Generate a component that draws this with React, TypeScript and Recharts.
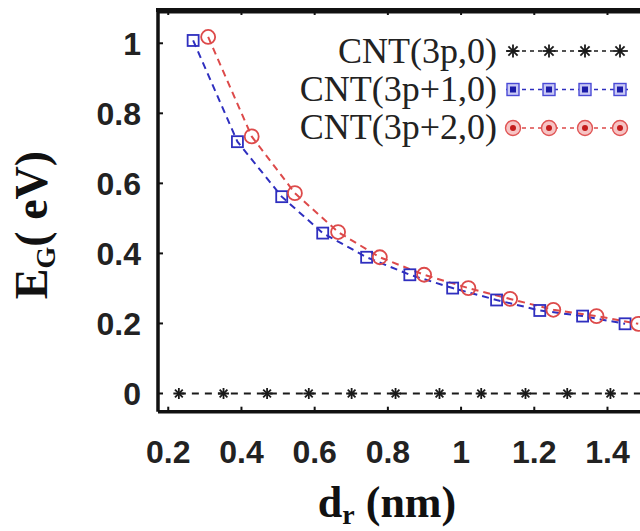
import React from 'react';
import { LineChart, Line, XAxis, YAxis, Customized, ReferenceLine } from 'recharts';

// ---- data ----
const dr3p = [0.229, 0.351, 0.47, 0.584, 0.701, 0.821, 0.941, 1.055, 1.176, 1.29, 1.408, 1.526];
const eg3p = [0, 0, 0, 0, 0, 0, 0, 0, 0, 0, 0, 0];
const drP1 = [0.268, 0.389, 0.51, 0.622, 0.742, 0.86, 0.977, 1.097, 1.215, 1.332, 1.448];
const egP1 = [1.008, 0.719, 0.562, 0.458, 0.389, 0.339, 0.301, 0.267, 0.237, 0.221, 0.199];
const drP2 = [0.309, 0.428, 0.546, 0.664, 0.778, 0.899, 1.02, 1.134, 1.252, 1.37, 1.484];
const egP2 = [1.018, 0.734, 0.572, 0.461, 0.389, 0.339, 0.301, 0.27, 0.239, 0.221, 0.199];

const seriesNames = ['CNT(3p,0)', 'CNT(3p+1,0)', 'CNT(3p+2,0)'];
const xTicks = [0.2, 0.4, 0.6, 0.8, 1, 1.2, 1.4];
const yTicks = [0, 0.2, 0.4, 0.6, 0.8, 1];
const xDomain: [number, number] = [0.172, 1.6];
const yDomain: [number, number] = [-0.052, 1.095];

const zip = (xs: number[], ys: number[]) => xs.map((x, i) => ({ x, y: ys[i] }));
const data3p = zip(dr3p, eg3p);
const dataP1 = zip(drP1, egP1);
const dataP2 = zip(drP2, egP2);

// chart geometry
const CHART_W = 700;
const CHART_H = 531;
const MARGIN = { top: 10, right: 19.3, bottom: 19.3, left: 0 };
const Y_AXIS_W = 158;
const X_AXIS_H = 100;
const PLOT_L = MARGIN.left + Y_AXIS_W;
const PLOT_R = CHART_W - MARGIN.right;
const PLOT_T = MARGIN.top;

const BLACK = '#1a1a1a';
const BLUE = '#2f2fbf';
const RED = '#dd4a4a';

const fmt = (v: number) => String(Math.round(v * 10) / 10);

const tickStyle = {
  fontSize: 32,
  fontWeight: 'bold' as const,
  fill: '#222',
  fontFamily: '"Liberation Sans", Arial, sans-serif',
};

const Star = ({ cx, cy, r, color }: { cx: number; cy: number; r: number; color: string }) => {
  const d = r * 0.7071;
  return (
    <g stroke={color} strokeWidth={1.8}>
      <line x1={cx - r} y1={cy} x2={cx + r} y2={cy} />
      <line x1={cx} y1={cy - r} x2={cx} y2={cy + r} />
      <line x1={cx - d} y1={cy - d} x2={cx + d} y2={cy + d} />
      <line x1={cx - d} y1={cy + d} x2={cx + d} y2={cy - d} />
    </g>
  );
};

const starDot = (p: any) =>
  p.cx == null ? <g key={p.index} /> : <Star key={p.index} cx={p.cx} cy={p.cy} r={5.5} color={BLACK} />;
const squareDot = (p: any) =>
  p.cx == null ? (
    <g key={p.index} />
  ) : (
    <rect key={p.index} x={p.cx - 5.5} y={p.cy - 5.5} width={11} height={11} fill="none" stroke={BLUE} strokeWidth={1.8} />
  );
const circleDot = (p: any) =>
  p.cx == null ? (
    <g key={p.index} />
  ) : (
    <circle key={p.index} cx={p.cx} cy={p.cy} r={7} fill="none" stroke={RED} strokeWidth={1.8} />
  );

// top edge of the box with inward tick marks
const TopTicks = () => {
  const sx = (v: number) => PLOT_L + ((v - xDomain[0]) / (xDomain[1] - xDomain[0])) * (PLOT_R - PLOT_L);
  return (
    <g>
      <path
        d={`M ${PLOT_L - 1.75} ${PLOT_T} L ${PLOT_R} ${PLOT_T}`}
        stroke="#111"
        strokeWidth={4}
        fill="none"
      />
      {xTicks.map((t) => (
        <line key={t} x1={sx(t)} y1={PLOT_T} x2={sx(t)} y2={PLOT_T + 5} stroke="#111" strokeWidth={2} />
      ))}
    </g>
  );
};

const LegendBox = () => {
  const rows = [
    { name: seriesNames[0], color: BLACK, my: 51, ty: 63, kind: 'star' },
    { name: seriesNames[1], color: BLUE, my: 89.5, ty: 100.5, kind: 'square' },
    { name: seriesNames[2], color: RED, my: 128, ty: 138.5, kind: 'circle' },
  ];
  const mx = [513, 549, 585, 620];
  return (
    <g>
      {rows.map((r) => (
        <g key={r.name}>
          <text
            x={497}
            y={r.ty}
            textAnchor="end"
            fontSize={36}
            fontFamily='"Liberation Serif", "Times New Roman", serif'
            fill="#222"
          >
            {r.name}
          </text>
          <line x1={506} y1={r.my} x2={628} y2={r.my} stroke={r.color} strokeWidth={1.6} strokeDasharray="4 4" />
          {mx.map((x) =>
            r.kind === 'star' ? (
              <Star key={x} cx={x} cy={r.my} r={6.5} color={BLACK} />
            ) : r.kind === 'square' ? (
              <g key={x}>
                <rect x={x - 6} y={r.my - 6} width={12} height={12} fill="#c9c9f4" stroke="#4a4ad6" strokeWidth={1.4} />
                <rect x={x - 3} y={r.my - 3} width={6} height={6} fill="#1c1ca8" />
              </g>
            ) : (
              <g key={x}>
                <circle cx={x} cy={r.my} r={7.5} fill="#f6c4c4" stroke="#e05454" strokeWidth={1.4} />
                <circle cx={x} cy={r.my} r={3} fill="#c41c1c" />
              </g>
            )
          )}
        </g>
      ))}
    </g>
  );
};

const AxisTitles = () => (
  <g fontFamily='"Liberation Serif", "Times New Roman", serif' fontWeight="bold" fill="#111">
    <text x={387} y={517} textAnchor="middle" fontSize={44}>
      d
      <tspan fontSize={28} dy={7}>
        r
      </tspan>
      <tspan dy={-7}> (nm)</tspan>
    </text>
    <text x={47} y={225} textAnchor="middle" fontSize={46} transform="rotate(-90, 47, 225)">
      E
      <tspan fontSize={28} dy={8}>
        G
      </tspan>
      <tspan dy={-8}>( eV)</tspan>
    </text>
  </g>
);

export default function App() {
  return (
    <div
      style={{
        position: 'absolute',
        left: 0,
        top: 0,
        width: 640,
        height: 531,
        overflow: 'hidden',
        background: '#fff',
      }}
    >
      <LineChart width={CHART_W} height={CHART_H} margin={MARGIN}>
        <XAxis
          type="number"
          dataKey="x"
          domain={xDomain}
          ticks={xTicks}
          interval={0}
          allowDataOverflow
          height={X_AXIS_H}
          tickSize={-5}
          tickMargin={34}
          tickFormatter={fmt}
          tick={tickStyle}
          axisLine={{ stroke: '#111', strokeWidth: 3.5 }}
          tickLine={{ stroke: '#111', strokeWidth: 2 }}
        />
        <YAxis
          type="number"
          dataKey="y"
          domain={yDomain}
          ticks={yTicks}
          interval={0}
          allowDataOverflow
          width={Y_AXIS_W}
          tickSize={-5}
          tickMargin={22}
          tickFormatter={fmt}
          tick={tickStyle}
          axisLine={{ stroke: '#111', strokeWidth: 3.5 }}
          tickLine={{ stroke: '#111', strokeWidth: 2 }}
        />
        <ReferenceLine y={1.09} stroke="#111" strokeWidth={3.5} ifOverflow="visible" />
        <Line
          data={data3p}
          dataKey="y"
          name={seriesNames[0]}
          type="linear"
          stroke={BLACK}
          strokeWidth={1.8}
          strokeDasharray="7 6"
          dot={starDot}
          activeDot={false}
          isAnimationActive={false}
        />
        <Line
          data={dataP1}
          dataKey="y"
          name={seriesNames[1]}
          type="linear"
          stroke={BLUE}
          strokeWidth={2}
          strokeDasharray="7 5"
          dot={squareDot}
          activeDot={false}
          isAnimationActive={false}
        />
        <Line
          data={dataP2}
          dataKey="y"
          name={seriesNames[2]}
          type="linear"
          stroke={RED}
          strokeWidth={2}
          strokeDasharray="7 5"
          dot={circleDot}
          activeDot={false}
          isAnimationActive={false}
        />
        <Customized component={TopTicks} />
        <Customized component={LegendBox} />
        <Customized component={AxisTitles} />
      </LineChart>
      <div
        style={{
          position: 'fixed',
          left: 156,
          top: 8,
          width: 484,
          height: 4,
          background: '#111',
          zIndex: 1000,
          pointerEvents: 'none',
        }}
      />
    </div>
  );
}
